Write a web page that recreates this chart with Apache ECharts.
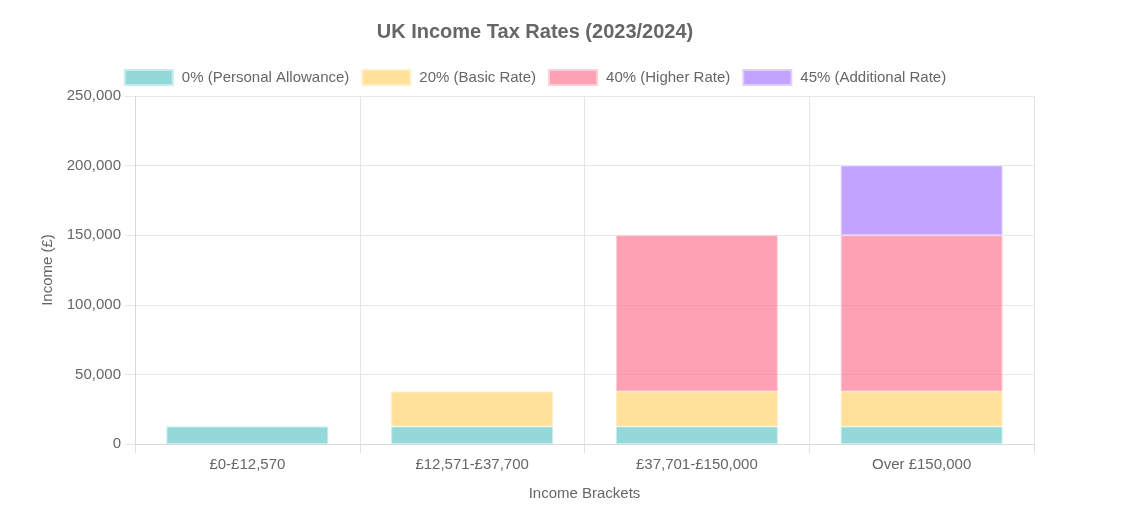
<!DOCTYPE html>
<html>
<head>
<meta charset="utf-8">
<script src="https://cdn.jsdelivr.net/npm/echarts@6/dist/echarts.min.js"></script>
<style>
  html, body { margin: 0; padding: 0; background: #fff; }
  #tax-bar { width: 1070px; height: 530px; }
</style>
</head>
<body>
<div id="tax-bar"></div>
<script>
// Chart data
var brackets = ['£0-£12,570', '£12,571-£37,700', '£37,701-£150,000', 'Over £150,000'];
var personalAllowance = [12570, 12570, 12570, 12570];
var basicRate = [0, 25130, 25130, 25130];
var higherRate = [0, 0, 112300, 112300];
var additionalRate = [0, 0, 0, 50000];
var seriesNames = ['0% (Personal Allowance)', '20% (Basic Rate)', '40% (Higher Rate)', '45% (Additional Rate)'];
var seriesColors = ['rgba(75, 192, 192, 0.6)', 'rgba(255, 205, 86, 0.6)', 'rgba(255, 99, 132, 0.6)', 'rgba(153, 102, 255, 0.6)'];
var borderColors = ['rgba(200, 236, 236, 1)', 'rgba(255, 238, 200, 1)', 'rgba(255, 205, 216, 1)', 'rgba(222, 206, 255, 1)'];

var font = '"Liberation Sans", Arial, Helvetica, sans-serif';

var myChart = echarts.init(document.getElementById('tax-bar'));

function makeSeries(i, values) {
    return {
        name: seriesNames[i],
        type: 'bar',
        stack: 'income',
        barWidth: '72%',
        // empty segments are not drawn (no stray border lines)
        data: values.map(function (v) { return v === 0 ? '-' : v; }),
        itemStyle: {
            color: seriesColors[i],
            borderColor: borderColors[i],
            borderWidth: 1
        }
    };
}

var option = {
    animation: false,
    textStyle: { fontFamily: font },
    title: {
        text: 'UK Income Tax Rates (2023/2024)',
        left: 'center',
        top: 17,
        textStyle: { fontFamily: font, fontSize: 20, fontWeight: 'bold', color: '#666' }
    },
    legend: {
        top: 64,
        left: 'center',
        itemWidth: 48,
        itemHeight: 15,
        itemGap: 12,
        icon: 'rect',
        textStyle: { fontFamily: font, fontSize: 15, color: '#666', padding: [0, 0, 0, 4] },
        data: seriesNames
    },
    grid: {
        left: 135,
        right: 36,
        top: 96,
        bottom: 86
    },
    xAxis: {
        type: 'category',
        data: brackets,
        name: 'Income Brackets',
        nameLocation: 'middle',
        nameGap: 42,
        nameTextStyle: { fontFamily: font, fontSize: 15, color: '#666' },
        axisLine: { lineStyle: { color: '#d9d9d9', width: 1 } },
        axisTick: { show: true, length: 9, lineStyle: { color: '#e0e0e0' } },
        axisLabel: { fontFamily: font, fontSize: 15, color: '#666', margin: 13 },
        splitLine: { show: true, lineStyle: { color: '#e5e5e5' } }
    },
    yAxis: {
        type: 'value',
        min: 0,
        max: 250000,
        interval: 50000,
        name: 'Income (£)',
        nameLocation: 'middle',
        nameGap: 80,
        nameTextStyle: { fontFamily: font, fontSize: 15, color: '#666' },
        axisLine: { show: true, lineStyle: { color: '#d9d9d9' } },
        axisTick: { show: true, length: 10, lineStyle: { color: '#e8e8e8' } },
        axisLabel: {
            fontFamily: font,
            fontSize: 15,
            color: '#666',
            margin: 14,
            formatter: function (v) { return v.toLocaleString('en-US'); }
        },
        splitLine: { lineStyle: { color: '#e8e8e8' } }
    },
    series: [
        makeSeries(0, personalAllowance),
        makeSeries(1, basicRate),
        makeSeries(2, higherRate),
        makeSeries(3, additionalRate)
    ]
};

myChart.setOption(option);
</script>
</body>
</html>
